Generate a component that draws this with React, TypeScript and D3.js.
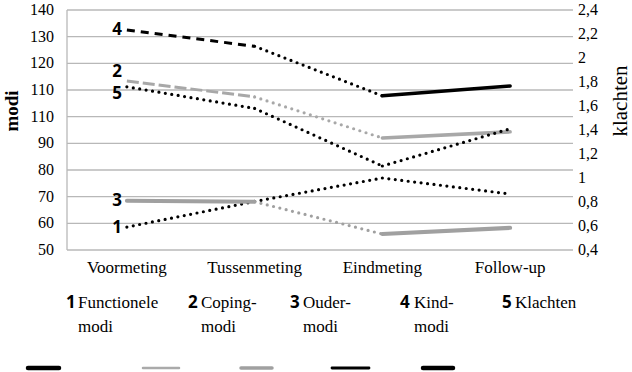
import * as d3 from 'd3';

const categories = ['Voormeting', 'Tussenmeting', 'Eindmeting', 'Follow-up'];

// left axis (modi) series
const functioneleModi = [58.6, 68.2, 77.0, 71.0];
const copingModi = [113.4, 107.4, 92.0, 94.3];
const ouderModi = [68.5, 68.1, 56.0, 58.3];
const kindModi = [132.5, 126.4, 107.8, 111.5];
// right axis (klachten)
const klachten = [1.76, 1.58, 1.1, 1.41];

const leftTicks = [50, 60, 70, 80, 90, 100, 110, 120, 130, 140];
const leftTickLabels = ['50', '60', '70', '80', '90', '110', '110', '120', '130', '140'];
const rightTicks = [0.4, 0.6, 0.8, 1, 1.2, 1.4, 1.6, 1.8, 2, 2.2, 2.4];

const seriesNames = [['Functionele', 'modi'], ['Coping-', 'modi'], ['Ouder-', 'modi'], ['Kind-', 'modi'], ['Klachten']];

type Seg = 'dot' | 'dash' | 'solid';
interface SeriesStyle { color: string; segs: Seg[]; solidW: number; dash: string; labelDy: number }

const BLACK = '#000';
const GREY = '#a8a8a8';
const GREY2 = '#a0a0a0';

const series = [
  { values: functioneleModi, axis: 'left', style: { color: BLACK, segs: ['dot', 'dot', 'dot'], solidW: 3.5, dash: '', labelDy: 6 } },
  { values: copingModi, axis: 'left', style: { color: GREY, segs: ['dash', 'dot', 'solid'], solidW: 3.5, dash: '12 4', labelDy: -4 } },
  { values: ouderModi, axis: 'left', style: { color: GREY2, segs: ['solid', 'dot', 'solid'], solidW: 4, dash: '', labelDy: 5 } },
  { values: kindModi, axis: 'left', style: { color: BLACK, segs: ['dash', 'dot', 'solid'], solidW: 3.5, dash: '8 6', labelDy: 5 } },
  { values: klachten, axis: 'right', style: { color: BLACK, segs: ['dot', 'dot', 'dot'], solidW: 3.5, dash: '', labelDy: 12 } },
] as { values: number[]; axis: string; style: SeriesStyle }[];

// legend layout: number x, name x, swatch x, swatch width, swatch stroke
const legendLayout = [
  { nx: 66, tx: 78, sx: 28, sw: 31, c: BLACK, w: 4.5 },
  { nx: 188, tx: 201, sx: 143, sw: 36, c: '#aaaaaa', w: 2.5 },
  { nx: 290, tx: 303, sx: 241, sw: 31, c: GREY2, w: 3.5 },
  { nx: 400, tx: 414, sx: 332, sw: 37, c: BLACK, w: 2.8 },
  { nx: 502, tx: 515, sx: 423, sw: 30, c: BLACK, w: 4.5 },
];

const SERIF = 'Liberation Serif';
const SANS = 'Open Sans';

export default function App() {
  const width = 632;
  const height = 372;
  const plotL = 67;
  const plotR = 573;
  const top = 10;
  const bottom = 250;

  const x = d3.scalePoint<string>().domain(categories).range([63, 574]).padding(0.5);
  const yL = d3.scaleLinear().domain([50, 140]).range([bottom, top]);
  const yR = d3.scaleLinear().domain([0.4, 2.4]).range([bottom, top]);
  const line = d3.line<[number, number]>().x((d) => d[0]).y((d) => d[1]);

  const fmtR = (v: number) => String(+v.toFixed(1)).replace('.', ',');

  return (
    <div style={{ position: 'absolute', left: 0, top: 0 }}>
      <svg width={width} height={height} style={{ display: 'block' }}>
        <rect width={width} height={height} fill="#fff" />
        {/* gridlines */}
        {leftTicks.map((t) => (
          <line key={'g' + t} x1={plotL} x2={plotR} y1={yL(t)} y2={yL(t)} stroke="#b8b8b8" strokeWidth={1.3} />
        ))}
        <line x1={plotL} x2={plotL} y1={top} y2={bottom} stroke="#b8b8b8" strokeWidth={1.3} />
        {leftTicks.map((t, i) => (
          <text key={'l' + t} x={54} y={yL(t) + 5} textAnchor="end" fontFamily={SERIF} fontSize={16}>
            {leftTickLabels[i]}
          </text>
        ))}
        {rightTicks.map((t) => (
          <text key={'r' + t} x={578} y={yR(t) + 5} fontFamily={SERIF} fontSize={16}>
            {fmtR(t)}
          </text>
        ))}
        <text transform={`translate(18,111) rotate(-90)`} textAnchor="middle" fontFamily={SERIF} fontSize={19} fontWeight="bold">
          modi
        </text>
        <text transform={`translate(627,101) rotate(-90)`} textAnchor="middle" fontFamily={SERIF} fontSize={21}>
          klachten
        </text>
        {categories.map((c) => (
          <text key={c} x={x(c)} y={273} textAnchor="middle" fontFamily={SERIF} fontSize={17}>
            {c}
          </text>
        ))}
        {/* series */}
        {series.map((s, si) => {
          const y = s.axis === 'left' ? yL : yR;
          const pts: [number, number][] = s.values.map((v, i) => [x(categories[i]) as number, y(v)]);
          return (
            <g key={'s' + si}>
              {s.style.segs.map((seg, i) => {
                const d = line([pts[i], pts[i + 1]]) as string;
                if (seg === 'dot')
                  return <path key={i} d={d} fill="none" stroke={s.style.color} strokeWidth={3.2} strokeLinecap="round" strokeDasharray="0 6.5" />;
                if (seg === 'dash')
                  return <path key={i} d={d} fill="none" stroke={s.style.color} strokeWidth={3} strokeDasharray={s.style.dash} />;
                return <path key={i} d={d} fill="none" stroke={s.style.color} strokeWidth={s.style.solidW} strokeLinecap="round" />;
              })}
              <text x={122} y={pts[0][1] + s.style.labelDy} textAnchor="end" fontFamily={SANS} fontWeight={700} fontSize={17}>
                {si + 1}
              </text>
            </g>
          );
        })}
        {/* legend */}
        {seriesNames.map((names, i) => {
          const L = legendLayout[i];
          return (
            <g key={'lg' + i}>
              <text x={L.nx} y={308} fontFamily={SANS} fontWeight={700} fontSize={17}>
                {i + 1}
              </text>
              {names.map((n, j) => (
                <text key={j} x={L.tx} y={308 + j * 24} fontFamily={SERIF} fontSize={17}>
                  {n}
                </text>
              ))}
              <line x1={L.sx} x2={L.sx + L.sw} y1={368} y2={368} stroke={L.c} strokeWidth={L.w} strokeLinecap="round" />
            </g>
          );
        })}
      </svg>
    </div>
  );
}
